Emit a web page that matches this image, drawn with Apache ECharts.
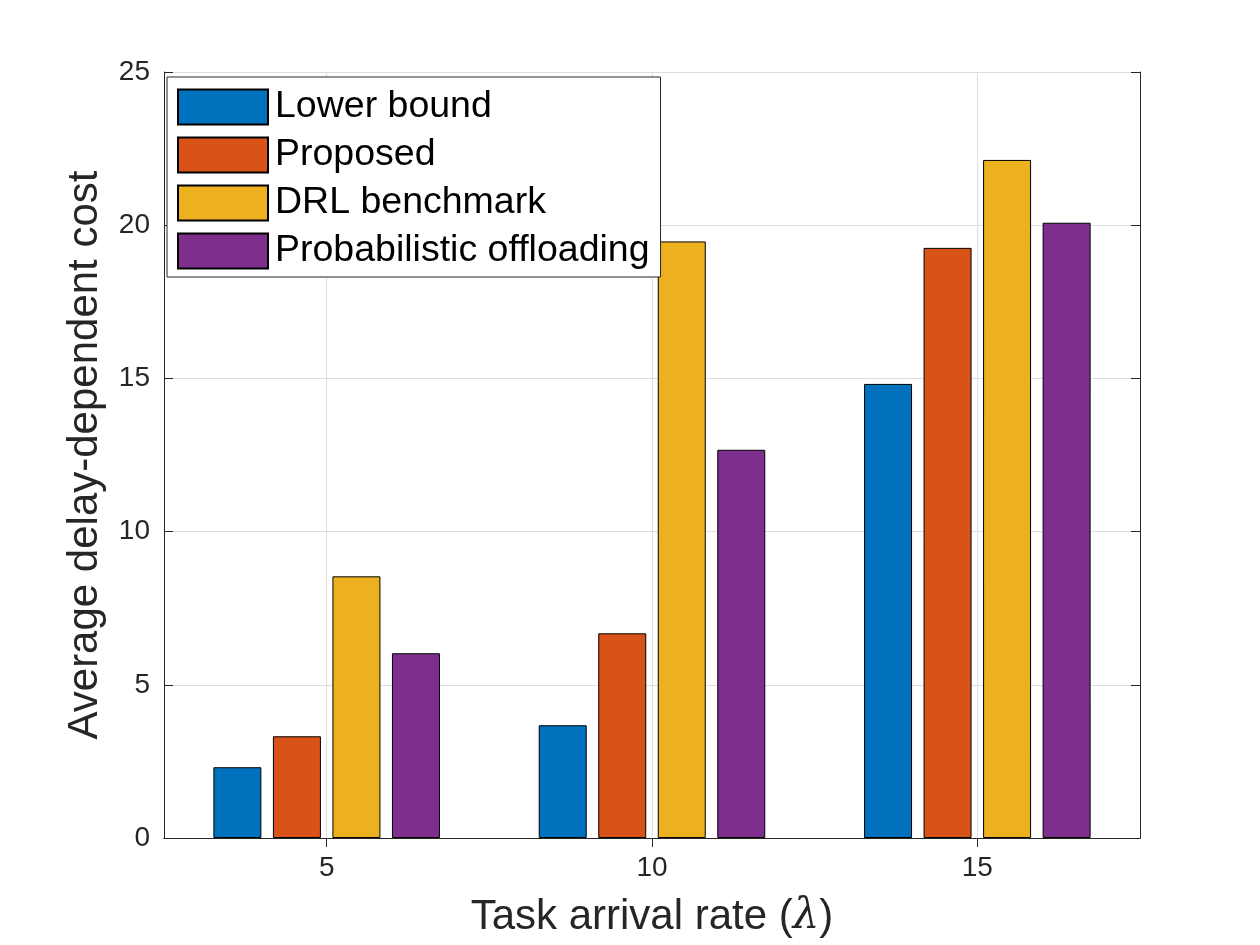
<!DOCTYPE html>
<html>
<head>
<meta charset="utf-8">
<script src="https://cdn.jsdelivr.net/npm/echarts@6/dist/echarts.min.js"></script>
<style>
html,body{margin:0;padding:0;background:#fff;}
#chart{width:1260px;height:945px;}
</style>
</head>
<body>
<div id="chart"></div>
<script>
// task arrival rates (x categories)
var rates = ['5', '10', '15'];
var seriesNames = ['Lower bound', 'Proposed', 'DRL benchmark', 'Probabilistic offloading'];
var seriesColors = ['#0072BD', '#D95319', '#EDB120', '#7E2F8E'];

// average delay-dependent cost
var lowerBound = [2.31, 3.68, 14.82];
var proposed = [3.32, 6.68, 19.26];
var drlBenchmark = [8.54, 19.47, 22.13];
var probOffloading = [6.03, 12.67, 20.08];

// helper top axis: 7 points so odd ones fall on the category centres
var topTicks = ['', '', '', '', '', '', ''];

var axisColor = '#262626';
var gridColor = '#dedede';
var font = 'Liberation Sans, Arial, Helvetica, sans-serif';

var allValues = [lowerBound, proposed, drlBenchmark, probOffloading];
var series = [];
for (var i = 0; i < seriesNames.length; i++) {
    series.push({
        name: seriesNames[i],
        type: 'bar',
        data: allValues[i],
        barWidth: 48,
        barGap: '24%',
        itemStyle: {color: seriesColors[i], borderColor: '#000', borderWidth: 1},
        emphasis: {disabled: true}
    });
}

var myChart = echarts.init(document.getElementById('chart'));
var option = {
    animation: false,
    backgroundColor: '#fff',
    textStyle: {fontFamily: font},
    grid: {left: 164, right: 120, top: 72, bottom: 107},
    legend: {
        orient: 'vertical',
        left: 167,
        top: 77,
        icon: 'rect',
        itemWidth: 90,
        itemHeight: 35,
        itemGap: 10,
        padding: [11, 11, 7, 10],
        backgroundColor: '#fff',
        borderColor: axisColor,
        borderWidth: 1,
        textStyle: {fontSize: 37.5, lineHeight: 31, color: '#000', fontFamily: font, padding: [4, 0, 0, 2]},
        data: seriesNames
    },
    xAxis: [
        {
            type: 'category',
            data: rates,
            position: 'bottom',
            axisLine: {lineStyle: {color: axisColor, width: 1}},
            axisTick: {inside: true, alignWithLabel: true, length: 9, lineStyle: {color: axisColor}},
            axisLabel: {fontSize: 28, color: axisColor, margin: 16},
            splitLine: {show: false},
            name: 'Task arrival rate ({l|λ})',
            nameLocation: 'middle',
            nameGap: 58,
            nameTextStyle: {
                fontSize: 42, color: axisColor,
                rich: {l: {fontSize: 42, fontStyle: 'italic', fontFamily: 'DejaVu Serif, serif', color: axisColor}}
            }
        },
        {
            type: 'category',
            data: topTicks,
            position: 'top',
            boundaryGap: false,
            axisLine: {show: true, lineStyle: {color: axisColor, width: 1}},
            axisTick: {show: true, inside: true, length: 9, lineStyle: {color: axisColor},
                interval: function (idx) { return idx % 2 === 1; }},
            axisLabel: {show: false},
            splitLine: {show: true, lineStyle: {color: gridColor, width: 1},
                interval: function (idx) { return idx % 2 === 1; }}
        }
    ],
    yAxis: [
        {
            type: 'value',
            min: 0,
            max: 25,
            interval: 5,
            position: 'left',
            axisLine: {show: true, lineStyle: {color: axisColor, width: 1}},
            axisTick: {show: true, inside: true, length: 9, lineStyle: {color: axisColor}},
            axisLabel: {fontSize: 28, color: axisColor, margin: 14},
            splitLine: {show: true, lineStyle: {color: gridColor, width: 1}},
            name: 'Average delay-dependent cost',
            nameLocation: 'middle',
            nameGap: 58,
            nameTextStyle: {fontSize: 42, color: axisColor}
        },
        {
            type: 'value',
            min: 0,
            max: 25,
            interval: 5,
            position: 'right',
            axisLine: {show: true, lineStyle: {color: axisColor, width: 1}},
            axisTick: {show: true, inside: true, length: 9, lineStyle: {color: axisColor}},
            axisLabel: {show: false},
            splitLine: {show: false}
        }
    ],
    series: series
};
myChart.setOption(option);
</script>
</body>
</html>
